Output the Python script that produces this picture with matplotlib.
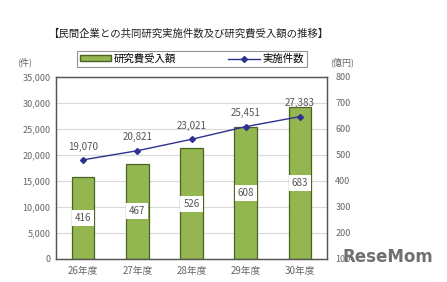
import matplotlib
matplotlib.use("Agg")
import matplotlib.pyplot as plt
from matplotlib.patches import Patch
from matplotlib.lines import Line2D

plt.rcParams['font.family'] = ['Noto Sans CJK JP', 'DejaVu Sans']

categories = ["26年度", "27年度", "28年度", "29年度", "30年度"]
amounts = [416, 467, 526, 608, 683]          # 研究費受入額 (億円)
counts = [19070, 20821, 23021, 25451, 27383]  # 実施件数 (件)
left_ticks = [0, 5000, 10000, 15000, 20000, 25000, 30000, 35000]
right_ticks = [100, 200, 300, 400, 500, 600, 700, 800]

fig = plt.figure(figsize=(4.47, 2.82), dpi=100)
ax = fig.add_axes([56/447, 1-259/282, (327-56)/447, (259-77)/282])
ax2 = ax.twinx()

x = list(range(len(categories)))
tick_col = "#666666"

# left axis (counts) - line
ax.set_ylim(0, 35000)
ax.set_yticks(left_ticks)
ax.set_yticklabels([f"{v:,}" for v in left_ticks])
ax.set_xlim(-0.5, len(categories)-0.5)
ax.set_xticks(x)
ax.set_xticklabels(categories)
ax.tick_params(axis='both', length=0, labelsize=6.5, colors=tick_col, pad=4)
ax.tick_params(axis='x', labelsize=7, pad=5)

# right axis (amounts) - bars
ax2.set_ylim(100, 800)
ax2.set_yticks(right_ticks)
ax2.tick_params(axis='y', length=0, labelsize=6.5, colors=tick_col, pad=6)
for t in left_ticks[1:-1]:
    ax2.axhline(100 + t / 5000 * 100, color='#d9d9d9', linewidth=0.8, zorder=0)
ax2.bar(x, [a - 100 for a in amounts], bottom=100, width=0.42,
        color="#93b650", edgecolor="#4d6323", linewidth=0.9, zorder=2)
for xi, a in zip(x, amounts):
    ax2.text(xi, (a + 100) / 2, f"{a}", ha='center', va='center', fontsize=7,
             color="#555555", zorder=3,
             bbox=dict(boxstyle='square,pad=0.3', fc='white', ec='none'))

# line on top
ax.set_zorder(ax2.get_zorder() + 1)
ax.patch.set_visible(False)
ax.plot(x, counts, color="#2d3190", linewidth=1.0, marker='D', markersize=3, zorder=4)
for xi, c in zip(x, counts):
    ax.text(xi, c + 1600, f"{c:,}", ha='center', va='bottom', fontsize=7, color="#555555")

for a in (ax, ax2):
    for s in a.spines.values():
        s.set_color('#555555')
        s.set_linewidth(0.9)

# title, units
fig.text(188/447, 1-33/282, "【民間企業との共同研究実施件数及び研究費受入額の推移】",
         ha='center', va='center', fontsize=7.5, color='#222222')
fig.text(25/447, 1-62/282, "(件)", ha='center', va='center', fontsize=6.5, color=tick_col)
fig.text(342/447, 1-62/282, "(億円)", ha='center', va='center', fontsize=6.5, color=tick_col)

# legend
handles = [Patch(facecolor="#93b650", edgecolor="#4d6323", label="研究費受入額"),
           Line2D([0], [0], color="#2d3190", marker='D', markersize=3, linewidth=1.0, label="実施件数")]
leg = fig.legend(handles=handles, loc='center', bbox_to_anchor=(192/447, 1-59/282),
                 ncol=2, fontsize=7.5, frameon=True, fancybox=False, edgecolor='#777777',
                 handlelength=3.0, handleheight=0.5, columnspacing=5.0, borderpad=0.25,
                 handletextpad=0.3, borderaxespad=0)
leg.get_frame().set_linewidth(0.8)

# watermark
fig.text(388/447, 1-257/282, "ReseMom", ha='center', va='center', fontsize=12,
         fontweight='bold', color='#707070', family='DejaVu Sans')

fig.savefig("out.png", dpi=100)
